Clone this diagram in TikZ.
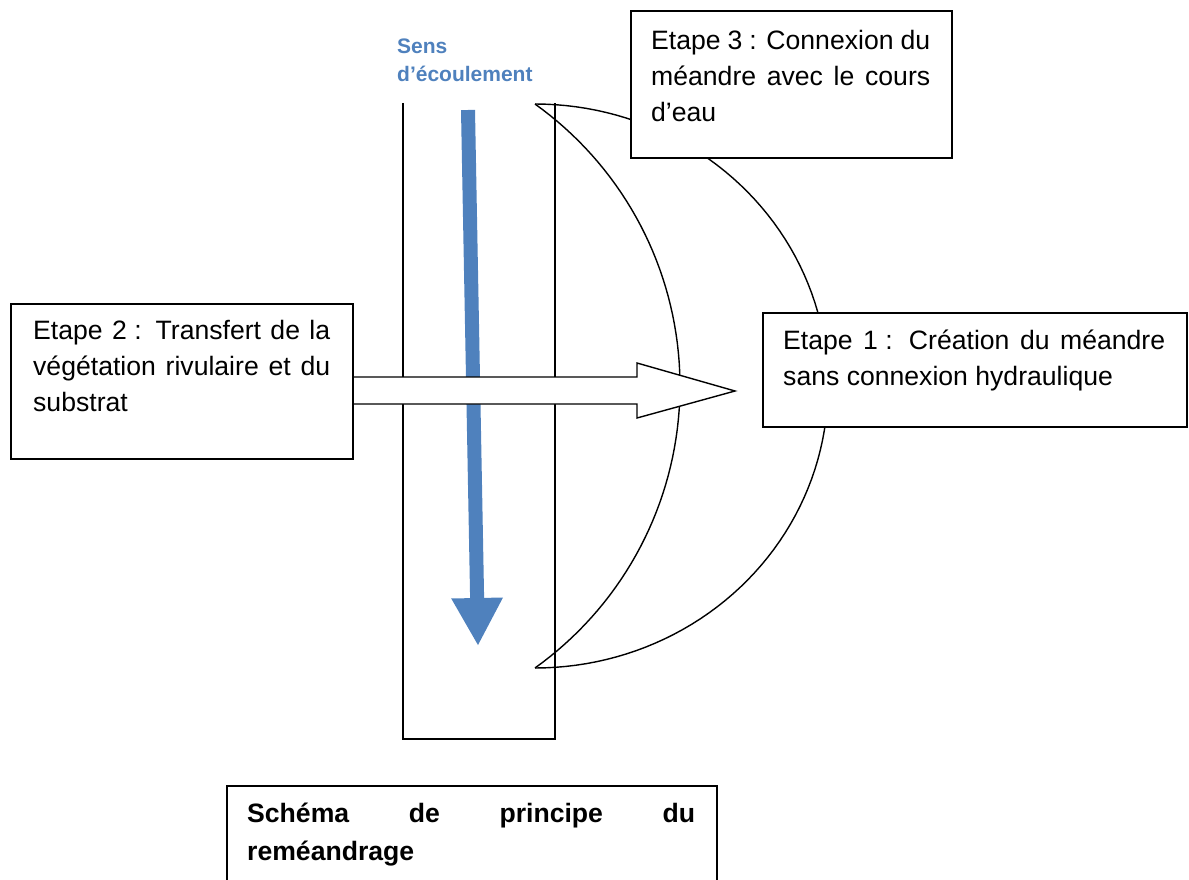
\documentclass[tikz,border=0pt]{standalone}
\usepackage{fontspec}
\setmainfont{Liberation Sans}
\usetikzlibrary{arrows.meta}
\definecolor{flow}{HTML}{4F81BD}

\begin{document}
\begin{tikzpicture}[x=1pt,y=-1pt,
box/.style={draw,line width=1.6pt,fill=white,inner sep=0pt,anchor=north west},
txt/.style={inner sep=0pt,anchor=north west,align=justify,font=\fontsize{26.6}{36}\selectfont},
line/.style={line width=1.4pt}]
\useasboundingbox (0,0) rectangle (1189,880);

\draw[line](403,103)--(403,739)--(555,739)--(555,103);

\coordinate(s1) at (468,110);
\coordinate(s2) at (478,646);
\draw[flow,line width=14pt,-{Triangle[width=48pt,length=48pt]}](s1)--(s2);

\draw[line,domain=-90:90,samples=90] plot ({535+293*cos(\x)},{386+282*sin(\x)});
\draw[line,domain=-54.43:54.43,samples=70] plot ({333.3+346.7*cos(\x)},{386+346.7*sin(\x)});

\draw[line,fill=white](352,377)--(637,377)--(637,363)--(735,391)--(637,418)--(637,404)--(352,404)--cycle;

\node[inner sep=0pt,anchor=north west,align=left,text=flow,font=\bfseries\fontsize{21}{28}\selectfont](se) at (397,39){Sens\\d’écoulement};

\node[box,minimum width=321pt,minimum height=147pt](e3) at (630,10){};
\node[txt,text width=279pt](t3) at ([shift={(21,20)}]e3.north west){Etape 3 : Connexion du\linebreak méandre avec le cours\linebreak d’eau};

\node[box,minimum width=342pt,minimum height=155pt](e2) at (10,303){};
\node[txt,text width=297pt](t2) at ([shift={(23,17)}]e2.north west){Etape 2\kern.28em: Transfert de la\linebreak végétation rivulaire et du\linebreak substrat};

\node[box,minimum width=424pt,minimum height=114pt](e1) at (762,312){};
\node[txt,text width=382pt](t1) at ([shift={(21,18)}]e1.north west){Etape 1\kern.28em: Création du méandre\linebreak sans connexion hydraulique};

\node[box,minimum width=490pt,minimum height=130pt](e0) at (226,785){};
\node[txt,text width=448pt,font=\bfseries\fontsize{26.6}{38}\selectfont](t0) at ([shift={(21,18)}]e0.north west){Schéma de principe du\linebreak reméandrage};

\end{tikzpicture}
\end{document}
